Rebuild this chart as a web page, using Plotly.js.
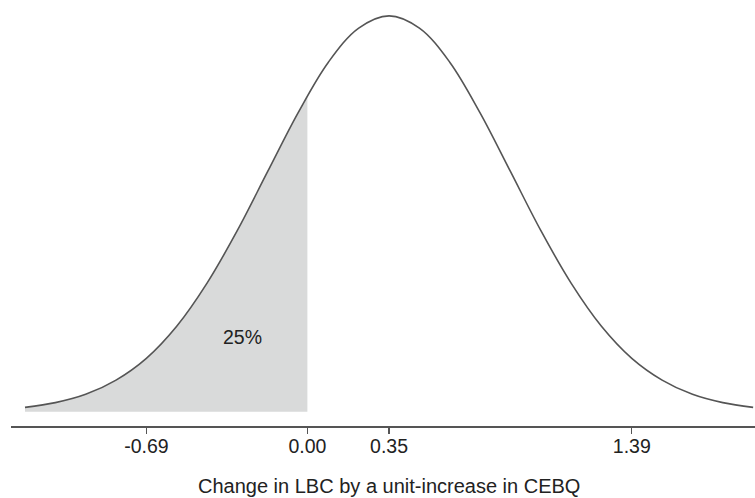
<!DOCTYPE html>
<html>
<head>
<meta charset="utf-8">
<script src="https://cdn.plot.ly/plotly-3.0.1.min.js"></script>
<style>html,body{margin:0;padding:0;background:#fff;}#chart{width:755px;height:498px;}</style>
</head>
<body>
<div id="chart"></div>
<script>
// Curve (relative density, peak = 1)
var curveX = [-1.21,-1.08,-0.95,-0.82,-0.69,-0.56,-0.43,-0.30,-0.17,-0.04,0.09,0.22,0.35,0.48,0.61,0.74,0.87,1.00,1.13,1.26,1.39,1.52,1.65,1.78,1.91];
var curveY = [0.011,0.023,0.044,0.080,0.135,0.216,0.325,0.458,0.607,0.755,0.883,0.969,1.000,0.969,0.883,0.755,0.607,0.458,0.325,0.216,0.135,0.080,0.044,0.023,0.011];
var cutoffX = 0.00;
var cutoffY = 0.797;
var tickValues = [-0.69, 0.00, 0.35, 1.39];
var tickLabels = ['-0.69', '0.00', '0.35', '1.39'];
var shadeLabel = '25%';
var xTitle = 'Change in LBC by a unit-increase in CEBQ';

var shadeX = [], shadeY = [];
for (var i = 0; i < curveX.length; i++) {
  if (curveX[i] < cutoffX) { shadeX.push(curveX[i]); shadeY.push(curveY[i]); }
}
shadeX.push(cutoffX); shadeY.push(cutoffY);

var FONT = '"Liberation Sans", Arial, Helvetica, sans-serif';

var traces = [
  {x: shadeX, y: shadeY, type: 'scatter', mode: 'lines', fill: 'tozeroy',
   fillcolor: '#d9dada', line: {width: 0, shape: 'spline'}, hoverinfo: 'skip', showlegend: false},
  {x: curveX, y: curveY, type: 'scatter', mode: 'lines',
   line: {color: '#555555', width: 1.6, shape: 'spline'}, hoverinfo: 'skip', showlegend: false}
];

var layout = {
  width: 755, height: 498,
  margin: {l: 11, r: 0, t: 0, b: 72, pad: 0},
  paper_bgcolor: '#ffffff', plot_bgcolor: '#ffffff',
  font: {family: FONT, color: '#222222'},
  showlegend: false,
  xaxis: {
    range: [-1.270, 1.918], showgrid: false, zeroline: false,
    showline: true, linecolor: '#555555', linewidth: 1.5,
    ticks: 'outside', ticklen: 6, tickwidth: 1.3, tickcolor: '#555555',
    ticklabelstandoff: -4,
    tickmode: 'array', tickvals: tickValues, ticktext: tickLabels,
    tickfont: {family: FONT, size: 19.5, color: '#222222'}
  },
  yaxis: {range: [-0.036, 1.040], visible: false, showgrid: false, zeroline: false},
  annotations: [
    {x: -0.28, y: 0.19, xref: 'x', yref: 'y', text: shadeLabel, showarrow: false,
     xanchor: 'center', yanchor: 'middle', font: {family: FONT, size: 19.5, color: '#222222'}},
    {x: 0.508, y: -0.141, xref: 'paper', yref: 'paper', text: xTitle, showarrow: false,
     xanchor: 'center', yanchor: 'middle', font: {family: FONT, size: 20, color: '#222222'}}
  ]
};

Plotly.newPlot('chart', traces, layout, {displayModeBar: false, staticPlot: true});
</script>
</body>
</html>
